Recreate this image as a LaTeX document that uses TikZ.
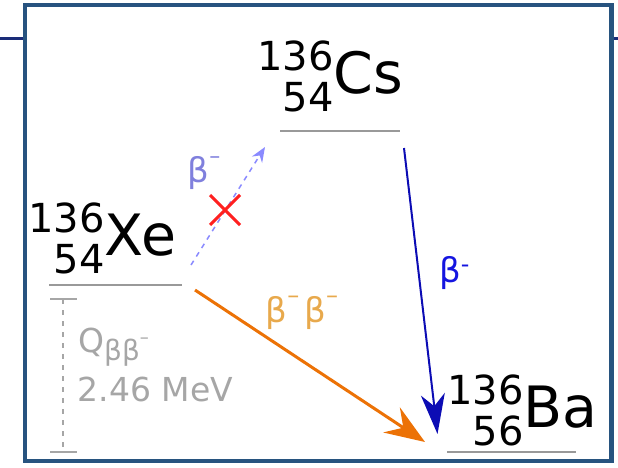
\documentclass[tikz,border=0pt]{standalone}
\usepackage{fontspec}
\setmainfont{DejaVu Sans}
\usetikzlibrary{arrows.meta}
\definecolor{frameblue}{HTML}{27537F}
\definecolor{navyline}{HTML}{1A2C78}
\definecolor{levelgray}{HTML}{999999}
\definecolor{qgray}{HTML}{A6A6A6}
\definecolor{dbdorange}{HTML}{EC7206}
\definecolor{dbdlabel}{HTML}{E8A94C}
\definecolor{csblue}{HTML}{0C0CB4}
\definecolor{csblabel}{HTML}{1515E0}
\definecolor{faintblue}{HTML}{8A8AFF}
\definecolor{faintlabel}{HTML}{8080DD}
\definecolor{vetored}{HTML}{FF2020}

% nuclide symbol: mass number over charge number, right aligned
\newlength\nucw
\newcommand\nuc[3]{{\fontsize{40}{40}\selectfont\settowidth\nucw{#1}%
  \raisebox{23pt}{#1}\hspace{-\nucw}\makebox[\nucw][r]{\raisebox{-18pt}{#2}}}%
  {\fontsize{57}{57}\selectfont #3}}
% minus sign level with the top of the beta
\newcommand\bminus[2]{\raisebox{#2}{\fontsize{#1}{#1}\selectfont –}}

\begin{document}
\begin{tikzpicture}[x=1pt, y=-1pt,
    nucl/.style={inner sep=0pt, anchor=base west},
    lab/.style={inner sep=0pt, anchor=base west, font=\fontsize{34}{34}\selectfont},
    level/.style={draw=levelgray, line width=2.5pt},
    dbd/.style={-{Stealth[length=40pt, width=30pt, inset=14pt]}, draw=dbdorange, line width=3pt},
    csdecay/.style={-{Stealth[length=40pt, width=24pt, inset=12pt]}, draw=csblue, line width=2pt},
    vetoed/.style={-{Stealth[length=15pt, width=12pt, inset=5pt]}, draw=faintblue,
                   line width=1.5pt, dash pattern=on 5pt off 5pt},
  ]
  \useasboundingbox (0,0) rectangle (618,468);
  % slide frame
  \draw[navyline, line width=3pt] (0,39) -- (25,39) (611,39) -- (618,39);
  \draw[frameblue, line width=4.7pt] (25,5) rectangle (611.7,461);

  % nuclides and their levels
  \node[nucl] (cs) at (257,94) {\nuc{136}{54}{Cs}};
  \node[nucl] (xe) at (28,255) {\nuc{136}{54}{Xe}};
  \node[nucl] (ba) at (447,427) {\nuc{136}{56}{Ba}};
  \draw[level] (280,131) -- (400,131);
  \draw[level] (49,285) -- (182,285);
  \draw[level] (447,452) -- (576,452);

  \coordinate (xeup) at (191,265);
  \coordinate (xeout) at (195,290);
  \coordinate (csin) at (265,147);
  \coordinate (csout) at (404,148);
  \coordinate (baleft) at (425,442);
  \coordinate (batop) at (437.5,434);

  % decays
  \draw[vetoed] (xeup) -- (csin);
  \draw[csdecay] (csout) -- (batop);
  \draw[dbd] (xeout) -- (baleft);
  \draw[vetored, line width=3pt] (210,195) -- (240,225) (210,225) -- (240,195);

  \node[lab, text=faintlabel] (betaveto) at (187.5,182) {β\bminus{22}{19pt}};
  \node[lab, text=dbdlabel] (betabeta) at (265.5,322)
    {β\bminus{24}{19pt}\hspace{5pt}β\bminus{24}{19pt}};
  \node[lab, text=csblabel] (betacs) at (439,282) {β\textsuperscript{-}};

  % Q value
  \draw[qgray, line width=2.5pt] (50,299) -- (77,299) (50,452) -- (77,452);
  \draw[qgray, line width=2.5pt, dash pattern=on 5pt off 6pt] (63,299) -- (63,452);
  \node[lab, text=qgray, font=\fontsize{33}{33}\selectfont] (qlab) at (78,352)
    {Q{\fontsize{28}{28}\selectfont\raisebox{-8.5pt}{ββ\bminus{18}{17pt}}}};
  \node[lab, text=qgray, font=\fontsize{33}{33}\selectfont] (qval) at (77.5,401) {2.46 MeV};
\end{tikzpicture}
\end{document}
